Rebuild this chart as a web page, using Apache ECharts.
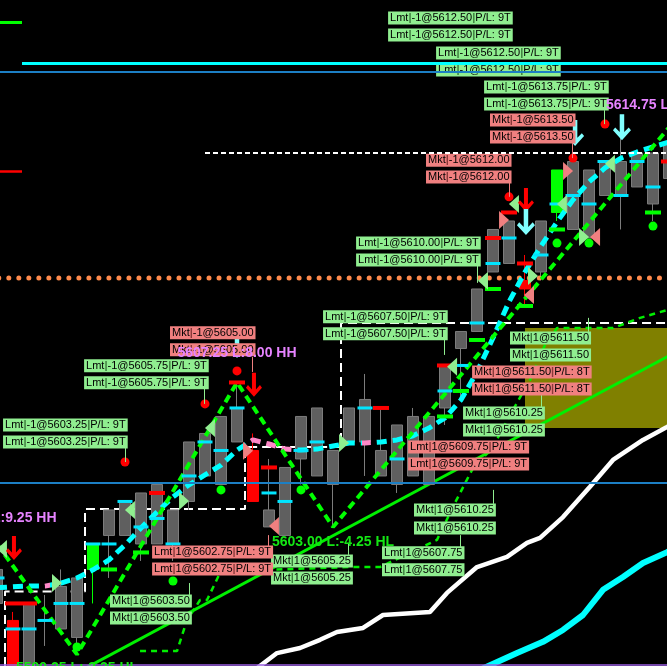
<!DOCTYPE html>
<html>
<head>
<meta charset="utf-8">
<script src="https://cdn.jsdelivr.net/npm/echarts/dist/echarts.min.js"></script>
<style>
  html, body { margin: 0; padding: 0; background: #000; }
  #chart { width: 667px; height: 666px; }
</style>
</head>
<body>
<div id="chart"></div>
<script>
// ---- bars: [open, close, low, high], one per bar index ----
const bars = [
  [5601.75, 5600.75, 5600.5, 5602.5],
  [5600.25, 5598.5, 5598.25, 5600.5],
  [5600.75, 5598.5, 5598.25, 5600.75],
  [5600.25, 5600.25, 5599.5, 5601.0],
  [5601.25, 5600.0, 5600.0, 5601.75],
  [5601.5, 5599.75, 5599.25, 5601.5],
  [5601.75, 5602.5, 5600.75, 5602.5],
  [5603.5, 5602.75, 5601.5, 5603.5],
  [5603.75, 5602.75, 5602.75, 5603.75],
  [5604.0, 5602.5, 5602.0, 5604.0],
  [5604.25, 5602.5, 5602.5, 5604.25],
  [5603.5, 5602.5, 5602.0, 5603.5],
  [5605.5, 5603.75, 5603.5, 5605.5],
  [5605.75, 5604.5, 5604.5, 5605.75],
  [5606.25, 5604.25, 5604.25, 5606.25],
  [5606.5, 5605.5, 5605.5, 5607.25],
  [5605.25, 5603.75, 5603.75, 5605.75],
  [5603.5, 5603.0, 5603.0, 5605.0],
  [5604.75, 5602.75, 5602.75, 5604.75],
  [5606.25, 5605.0, 5604.25, 5606.25],
  [5606.5, 5604.5, 5604.5, 5606.5],
  [5605.25, 5604.25, 5603.0, 5605.25],
  [5606.5, 5605.5, 5605.5, 5606.5],
  [5606.75, 5605.5, 5604.5, 5607.5],
  [5605.25, 5604.5, 5604.5, 5606.5],
  [5606.0, 5604.25, 5604.0, 5606.0],
  [5606.25, 5604.5, 5604.5, 5606.5],
  [5606.25, 5604.25, 5604.25, 5606.25],
  [5607.75, 5606.5, 5606.0, 5607.75],
  [5608.75, 5608.25, 5606.75, 5608.75],
  [5610.0, 5608.75, 5608.75, 5610.0],
  [5611.75, 5610.5, 5610.5, 5611.75],
  [5612.0, 5610.75, 5610.75, 5612.0],
  [5610.25, 5610.0, 5609.5, 5611.0],
  [5612.0, 5610.5, 5610.25, 5612.0],
  [5612.25, 5613.5, 5612.0, 5613.5],
  [5613.75, 5611.75, 5611.75, 5613.75],
  [5613.5, 5611.5, 5611.5, 5613.5],
  [5613.75, 5612.75, 5612.75, 5613.75],
  [5613.75, 5612.75, 5611.75, 5614.75],
  [5614.0, 5613.0, 5613.0, 5614.0],
  [5614.0, 5612.5, 5612.0, 5614.0],
  [5614.25, 5613.25, 5613.25, 5614.75]
];
const upSignalBars = [6, 35];
const downSignalBars = [1, 16, 33];

// per-bar reference ticks [bar, price]
const cyanTicks = [
  [0, 5601.5], [1, 5600.0], [2, 5600.0], [3, 5600.25], [4, 5600.75], [5, 5600.75],
  [6, 5602.5], [7, 5602.5], [8, 5603.75], [9, 5603.0], [10, 5603.25], [11, 5602.5],
  [12, 5604.5], [13, 5605.5], [14, 5605.25], [15, 5606.5], [17, 5604.0], [18, 5603.75],
  [19, 5605.25], [20, 5605.5], [23, 5606.5], [25, 5605.0], [28, 5607.0], [29, 5607.75],
  [30, 5609.0], [31, 5610.75], [32, 5611.5], [34, 5611.0], [35, 5612.5], [36, 5612.75],
  [37, 5612.5], [38, 5613.75], [39, 5612.75], [40, 5613.75], [41, 5613.0]
];
const greenTicks = [
  [7, 5601.75], [9, 5602.25], [28, 5606.25], [29, 5607.0], [30, 5608.5],
  [31, 5610.0], [33, 5609.5], [35, 5611.75], [41, 5612.25]
];
const redTicks = [
  [1, 5600.75], [2, 5600.75], [10, 5604.0], [15, 5607.25], [17, 5604.75], [24, 5606.5],
  [28, 5607.75], [31, 5611.5], [32, 5612.25], [33, 5610.75], [42, 5613.75]
];

// trade markers [bar position, price]
const longTrianglesRight = [[3.75, 5601.35], [11.69, 5603.76], [21.69, 5605.47], [33.5, 5610.38], [36.69, 5611.53]];
const longTrianglesLeft = [[0.31, 5602.35], [8.31, 5603.5], [13.31, 5605.91], [28.44, 5607.71], [30.375, 5610.24],
                           [32.31, 5612.5], [35.31, 5612.5], [38.31, 5613.68]];
const shortTrianglesRight = [[15.69, 5605.24], [31.69, 5612.03], [35.69, 5613.47]];
const shortTrianglesLeft = [[17.31, 5603.03], [33.25, 5609.82], [37.38, 5611.53]];
const exitDots = [[8, 5604.91], [13, 5606.62], [15, 5607.59], [32, 5612.71], [36, 5613.85], [38, 5614.85]];
const entryDots = [[5, 5599.47], [11, 5601.41], [14, 5604.09], [19, 5604.09], [35, 5611.35], [37, 5611.35], [41, 5611.85]];
const sellArrows = [[1.06, 5602.38], [16.06, 5607.18], [33.06, 5612.62]];
const coverArrows = [[15.0, 5608.35], [33.06, 5611.97], [36.13, 5614.59], [39.06, 5614.76]];

// moving averages and swing lines [bar position, price]
const fastMA = [
  [0, 5601.21], [1, 5601.24], [2, 5601.26], [3, 5601.26], [4, 5601.35], [5, 5601.5], [6, 5601.74],
  [7, 5602.03], [8, 5602.47], [9, 5602.97], [10, 5603.44], [11, 5603.88], [12, 5604.24], [13, 5604.53],
  [14, 5604.82], [15, 5605.26], [16, 5605.56], [17, 5605.44], [18, 5605.29], [19, 5605.26], [20, 5605.29],
  [21, 5605.38], [22, 5605.47], [23, 5605.47], [24, 5605.5], [25, 5605.56], [26, 5605.68], [27, 5605.91],
  [28, 5606.21], [29, 5606.74], [30, 5607.56], [31, 5608.56], [32, 5609.62], [33, 5610.5], [34, 5611.26],
  [35, 5611.97], [36, 5612.62], [37, 5613.15], [38, 5613.56], [39, 5613.85], [40, 5614.03], [41, 5614.18], [42, 5614.32]
];
const zigzag = [[0, 5602.5], [5, 5599.25], [15, 5607.25], [21, 5603.0], [42, 5614.75]];
const trailLine = [
  [8.94, 5599.35], [11.25, 5599.35], [11.875, 5600.26], [12.69, 5600.85], [13.125, 5600.85],
  [13.94, 5601.65], [17.06, 5601.74], [21.94, 5601.82], [23.94, 5601.82], [27.5, 5602.62],
  [28.625, 5603.71], [29.69, 5604.68], [31.0, 5605.35], [32.06, 5606.29], [33.31, 5607.32],
  [34.25, 5608.35], [35.0, 5608.85], [38.5, 5608.85], [40.19, 5609.15], [41.875, 5609.38], [42.5, 5609.45]
];
const slowTrend = [[5.19, 5598.76], [42.5, 5608.16]];
const whiteBand = [
  [16.125, 5598.8], [17.5, 5599.29], [18.94, 5599.44], [20.19, 5599.68], [21.25, 5599.91],
  [22.875, 5600.03], [24.125, 5600.41], [27.06, 5600.5], [28.125, 5601.06], [30.0, 5601.82],
  [31.875, 5602.12], [33.125, 5602.53], [33.94, 5602.68], [35.375, 5603.29], [37.06, 5604.18],
  [38.5, 5604.97], [40.375, 5605.56], [41.875, 5605.94], [42.5, 5606.1]
];
const cyanBand = [
  [30.19, 5598.8], [32.5, 5599.29], [34.125, 5599.62], [35.375, 5599.97], [36.625, 5600.41],
  [37.875, 5601.15], [39.125, 5601.53], [40.375, 5601.94], [41.875, 5602.26], [42.5, 5602.4]
];
const stopSteps = [
  [0.5, 5598.5], [0.5, 5601.1], [5.5, 5601.1], [5.5, 5603.53], [15.5, 5603.53],
  [15.5, 5605.35], [21.5, 5605.35], [21.5, 5609.0], [42.5, 5609.0]
];

// horizontal levels
const targetLevel = 5616.65;
const upperBlueLevel = 5616.38;
const lowerBlueLevel = 5604.29;
const pivotLevel = 5610.32;
const highLevel = 5614.0;
const greenMarkLevel = 5617.85;
const redMarkLevel = 5613.47;
const floorLevel = 5598.94;
const zoneTop = 5608.85, zoneBottom = 5605.91, zoneStart = 33.0;

// order fill tags [bar position, price, text, side]
const fillTags = [
  [24.44, 5617.97, 'Lmt|-1@5612.50|P/L: 9T', 'long'], [24.44, 5617.47, 'Lmt|-1@5612.50|P/L: 9T', 'long'],
  [27.44, 5616.94, 'Lmt|-1@5612.50|P/L: 9T', 'long'], [27.44, 5616.44, 'Lmt|-1@5612.50|P/L: 9T', 'long'],
  [30.44, 5615.94, 'Lmt|-1@5613.75|P/L: 9T', 'long'], [30.44, 5615.44, 'Lmt|-1@5613.75|P/L: 9T', 'long'],
  [30.81, 5614.97, 'Mkt|-1@5613.50', 'short'], [30.81, 5614.47, 'Mkt|-1@5613.50', 'short'],
  [26.81, 5613.79, 'Mkt|-1@5612.00', 'short'], [26.81, 5613.29, 'Mkt|-1@5612.00', 'short'],
  [10.81, 5608.71, 'Mkt|-1@5605.00', 'short'], [10.81, 5608.21, 'Mkt|-1@5605.00', 'short'],
  [5.44, 5607.74, 'Lmt|-1@5605.75|P/L: 9T', 'long'], [5.44, 5607.24, 'Lmt|-1@5605.75|P/L: 9T', 'long'],
  [0.375, 5606.0, 'Lmt|-1@5603.25|P/L: 9T', 'long'], [0.375, 5605.5, 'Lmt|-1@5603.25|P/L: 9T', 'long'],
  [22.44, 5611.35, 'Lmt|-1@5610.00|P/L: 9T', 'long'], [22.44, 5610.85, 'Lmt|-1@5610.00|P/L: 9T', 'long'],
  [20.375, 5609.18, 'Lmt|-1@5607.50|P/L: 9T', 'long'], [20.375, 5608.68, 'Lmt|-1@5607.50|P/L: 9T', 'long'],
  [32.06, 5608.56, 'Mkt|1@5611.50', 'long'], [32.06, 5608.06, 'Mkt|1@5611.50', 'long'],
  [29.69, 5607.56, 'Mkt|1@5611.50|P/L: 8T', 'short'], [29.69, 5607.06, 'Mkt|1@5611.50|P/L: 8T', 'short'],
  [29.125, 5606.35, 'Mkt|1@5610.25', 'long'], [29.125, 5605.85, 'Mkt|1@5610.25', 'long'],
  [25.69, 5605.35, 'Lmt|1@5609.75|P/L: 9T', 'short'], [25.69, 5604.85, 'Lmt|1@5609.75|P/L: 9T', 'short'],
  [26.06, 5603.5, 'Mkt|1@5610.25', 'long'], [26.06, 5602.97, 'Mkt|1@5610.25', 'long'],
  [24.06, 5602.24, 'Lmt|1@5607.75', 'long'], [24.06, 5601.74, 'Lmt|1@5607.75', 'long'],
  [9.69, 5602.26, 'Lmt|1@5602.75|P/L: 9T', 'short'], [9.69, 5601.76, 'Lmt|1@5602.75|P/L: 9T', 'short'],
  [7.06, 5600.82, 'Mkt|1@5603.50', 'long'], [7.06, 5600.32, 'Mkt|1@5603.50', 'long'],
  [17.125, 5602.0, 'Mkt|1@5605.25', 'long'], [17.125, 5601.5, 'Mkt|1@5605.25', 'long']
];
// tag leader lines [bar position, from price, to price, side]
const tagLeaders = [
  [37.94, 5615.26, 5614.85, 'long'], [35.94, 5614.29, 5613.85, 'short'], [32.0, 5613.12, 5612.71, 'short'],
  [15.94, 5608.0, 5607.56, 'short'], [12.94, 5607.06, 5606.62, 'long'], [8.0, 5605.32, 5604.91, 'long'],
  [30.0, 5610.68, 5610.18, 'long'], [27.94, 5608.5, 5608.06, 'long'], [36.94, 5609.15, 5608.74, 'long'],
  [34.0, 5606.91, 5606.53, 'long'], [31.0, 5604.09, 5603.68, 'long'], [28.94, 5602.76, 5602.41, 'long'],
  [16.94, 5602.76, 5602.44, 'short'], [12.0, 5601.35, 5601.0, 'long'], [21.94, 5602.53, 5602.18, 'long']
];
// swing annotations [bar position, price, text, kind]
const swingTexts = [
  [0, 5603.26, '5602.50 L:9.25 HH', 'high'],
  [5, 5598.85, '5599.25 L:-3.25 HL', 'low'],
  [15, 5608.12, '5607.25 L:8.00 HH', 'high'],
  [21, 5602.56, '5603.00 L:-4.25 HL', 'low'],
  [42, 5615.41, '5614.75 L:11.75 HH', 'high']
];

// ---- drawing ----
const FONT = 'Liberation Sans';
const LONG_BG = '#90ee90', SHORT_BG = '#f08080';
const tri = {
  right: 'path://M0,0L10,9L0,18Z',
  left: 'path://M10,0L0,9L10,18Z',
  down: 'path://M6,0H10V15.5L14,11.5L16,14L8,22.5L0,14L2,11.5L6,15.5Z'
};

const xMin = 0.1875, xMax = 41.875;
const yMin = 5598.91, yMax = 5618.5;

const series = [];
function path(data, lineStyle, z) {
  series.push({ type: 'line', data, symbol: 'none', lineStyle: Object.assign({ opacity: 1 }, lineStyle),
    z, silent: true, animation: false });
}
function segs(list, z) {
  series.push({ type: 'lines', coordinateSystem: 'cartesian2d', z, silent: true, animation: false,
    lineStyle: { opacity: 1, curveness: 0 },
    data: list.map(d => ({ coords: d.coords, lineStyle: Object.assign({ opacity: 1 }, d.lineStyle) })) });
}
function marks(data, symbol, size, color, z) {
  series.push({ type: 'scatter', data, symbol, symbolSize: size, itemStyle: { color, opacity: 1 },
    z, silent: true, animation: false, clip: false });
}

// shaded zone
series.push({
  type: 'line', data: [], z: 1, silent: true,
  markArea: { silent: true, itemStyle: { color: '#808000', opacity: 1 },
    data: [[{ coord: [zoneStart, zoneTop] }, { coord: [42.5, zoneBottom] }]] }
});

path(slowTrend, { color: '#00f000', width: 3 }, 2);
path(whiteBand, { color: '#ffffff', width: 4.5 }, 2);
path(cyanBand, { color: '#00ffff', width: 6 }, 2);
path(stopSteps, { color: '#ffffff', width: 2, type: [9, 5] }, 3);
path(trailLine, { color: '#00ee00', width: 2.5, type: [6, 5] }, 3);

// candles
series.push({
  type: 'candlestick', barWidth: 11, z: 4, silent: true, animation: false,
  encode: { x: 0, y: [1, 2, 3, 4] },
  itemStyle: { color: '#5f5f5f', color0: '#5f5f5f', borderColor: '#7c7c7c', borderColor0: '#7c7c7c', borderWidth: 1 },
  data: bars.map((b, i) => {
    const item = { value: [i, b[0], b[1], b[2], b[3]] };
    if (upSignalBars.includes(i)) item.itemStyle = { color: '#00ff00', color0: '#00ff00', borderColor: '#00ff00', borderColor0: '#00ff00' };
    if (downSignalBars.includes(i)) item.itemStyle = { color: '#ff0000', color0: '#ff0000', borderColor: '#ff0000', borderColor0: '#ff0000' };
    return item;
  })
});

// orange pivot dots
path([[xMin - 0.2, pivotLevel], [42.5, pivotLevel]], { color: '#ff8a4c', width: 5, type: [0.01, 10], cap: 'round', dashOffset: -2 }, 5);

// fast MA (dashed, pink where it turns down) and swing zigzag
const maIndex = series.length;
path(fastMA, { width: 5, type: [10, 6] }, 5);
path(zigzag, { color: '#00ff00', width: 4, type: [8, 5] }, 5);

// ticks on bars
marks(cyanTicks, 'rect', [15, 3], '#00e5ff', 6);
marks(greenTicks, 'rect', [16, 4], '#00ff00', 6);
marks(redTicks, 'rect', [16, 4], '#ff0000', 6);

// markers
marks(longTrianglesRight, tri.right, [10, 18], '#90ee90', 7);
marks(longTrianglesLeft, tri.left, [10, 18], '#90ee90', 7);
marks(shortTrianglesRight, tri.right, [10, 18], '#f08080', 7);
marks(shortTrianglesLeft, tri.left, [10, 18], '#f08080', 7);
marks(exitDots, 'circle', 9, '#ff0000', 7);
marks(entryDots, 'circle', 9, '#00ff00', 7);
marks(sellArrows, tri.down, [16, 24], '#ff0000', 7);
marks(coverArrows, tri.down, [18, 26], '#80ffff', 7);

// fill tags
segs(tagLeaders.map(l => ({ coords: [[l[0], l[1]], [l[0], l[2]]],
  lineStyle: { color: l[3] === 'long' ? LONG_BG : SHORT_BG, width: 1 } })), 8);
function tagRich(t) { return t.split('|').map(s => '{t|' + s + '}').join('{s||}'); }
['long', 'short'].forEach(side => {
  series.push({
    type: 'scatter', z: 8, silent: true, animation: false, clip: false,
    symbol: 'rect', symbolSize: 0.1, itemStyle: { color: 'rgba(0,0,0,0)', opacity: 1 },
    data: fillTags.filter(f => f[3] === side).map(f => ({ value: [f[0], f[1]], text: f[2] })),
    label: {
      show: true, position: 'right', distance: 0, opacity: 1,
      backgroundColor: side === 'long' ? LONG_BG : SHORT_BG,
      padding: [0, 2], lineHeight: 13,
      formatter: p => tagRich(p.data.text),
      rich: {
        t: { fontFamily: FONT, fontSize: 11, lineHeight: 13, color: '#000' },
        s: { fontFamily: FONT, fontSize: 11, lineHeight: 13, color: side === 'long' ? '#3c7a3c' : '#8a3a3a', fontWeight: 'bold' }
      }
    }
  });
});

// horizontal levels on top
segs([
  { coords: [[xMin - 1, upperBlueLevel], [43, upperBlueLevel]], lineStyle: { color: '#1c7fc4', width: 2 } },
  { coords: [[xMin - 1, lowerBlueLevel], [43, lowerBlueLevel]], lineStyle: { color: '#1c7fc4', width: 2 } },
  { coords: [[1.5625, targetLevel], [43, targetLevel]], lineStyle: { color: '#00ffff', width: 3 } },
  { coords: [[xMin - 1, greenMarkLevel], [1.5625, greenMarkLevel]], lineStyle: { color: '#00ff00', width: 3 } },
  { coords: [[xMin - 1, redMarkLevel], [1.5625, redMarkLevel]], lineStyle: { color: '#ff0000', width: 2.5 } },
  { coords: [[13.0, highLevel], [43, highLevel]], lineStyle: { color: '#ffffff', width: 2, type: [5, 3] } },
  { coords: [[xMin - 1, floorLevel], [43, floorLevel]], lineStyle: { color: '#9a5ee0', width: 1.5 } }
], 9);

// swing annotations
series.push({
  type: 'scatter', z: 10, silent: true, animation: false, clip: false,
  symbol: 'rect', symbolSize: 0.1, itemStyle: { color: 'rgba(0,0,0,0)', opacity: 1 },
  data: swingTexts.map(s => ({ value: [s[0], s[1]], text: s[2],
    label: { color: s[3] === 'high' ? '#e683ff' : '#14e614' } })),
  label: {
    show: true, position: 'inside', fontFamily: FONT, fontWeight: 'bold', fontSize: 14, opacity: 1,
    formatter: p => p.data.text
  }
});

const chart = echarts.init(document.getElementById('chart'), null, { renderer: 'canvas' });
chart.setOption({
  backgroundColor: '#000',
  animation: false,
  grid: { left: 0, right: 0, top: 0, bottom: 0, containLabel: false },
  xAxis: { type: 'value', min: xMin, max: xMax, show: false, splitLine: { show: false } },
  yAxis: { type: 'value', min: yMin, max: yMax, show: false, splitLine: { show: false } },
  visualMap: {
    show: false, type: 'piecewise', seriesIndex: maIndex, dimension: 0,
    pieces: [
      { lt: 2.6, color: '#00ffff' }, { gte: 2.6, lt: 3.3, color: '#ff88c8' },
      { gte: 3.3, lt: 15.8, color: '#00ffff' }, { gte: 15.8, lt: 18.7, color: '#ff88c8' },
      { gte: 18.7, lt: 22.8, color: '#00ffff' }, { gte: 22.8, lt: 23.5, color: '#ff88c8' },
      { gte: 23.5, color: '#00ffff' }
    ]
  },
  series
});
</script>
</body>
</html>
